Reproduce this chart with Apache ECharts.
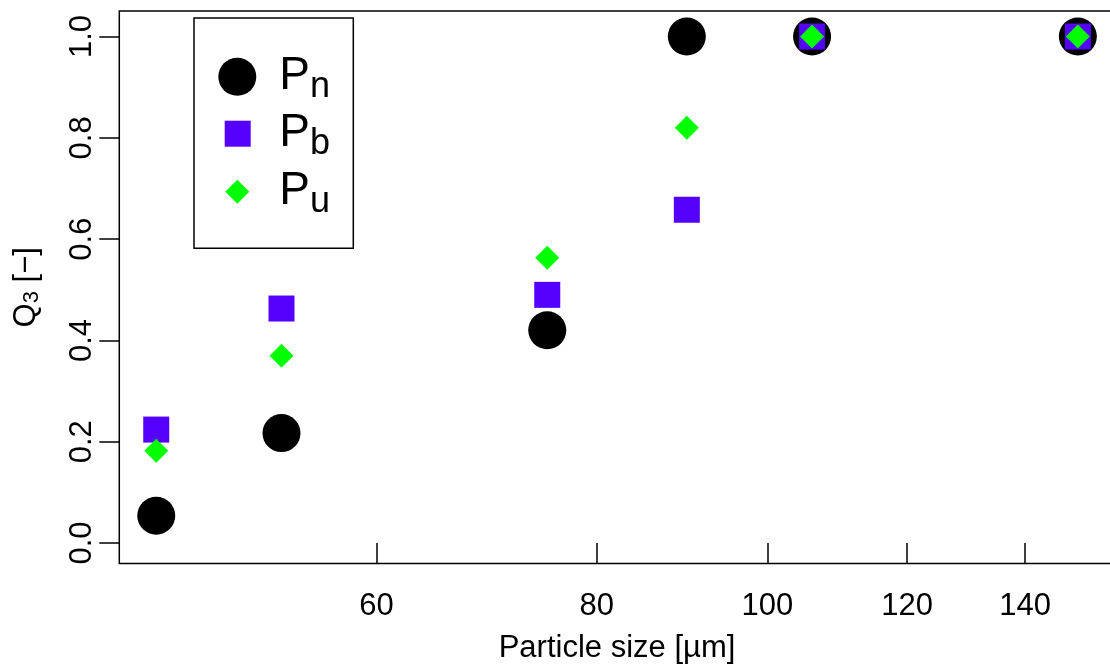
<!DOCTYPE html>
<html>
<head>
<meta charset="utf-8">
<script src="https://cdn.jsdelivr.net/npm/echarts@6/dist/echarts.min.js"></script>
<style>
  html, body { margin: 0; padding: 0; background: #ffffff; }
  #chart { width: 1110px; height: 670px; }
</style>
</head>
<body>
<div id="chart"></div>
<script>
// ---- data ----
const sizes = [45, 53, 75, 90, 106, 150];           // particle size [µm]
const Pn = [0.054, 0.217, 0.420, 1.0, 1.0, 1.0];
const Pb = [0.224, 0.463, 0.490, 0.658, 1.0, 1.0];
const Pu = [0.182, 0.370, 0.563, 0.820, 1.0, 1.0];
const xTicks = [60, 80, 100, 120, 140];
const yTicks = [0, 0.2, 0.4, 0.6, 0.8, 1.0];
const seriesNames = ['Pn', 'Pb', 'Pu'];
const subs = { Pn: 'n', Pb: 'b', Pu: 'u' };

const FONT = '"Liberation Sans", Arial, Helvetica, sans-serif';
const toPts = (vals) => sizes.map((s, i) => [Math.log(s), vals[i]]);

const chart = echarts.init(document.getElementById('chart'), null, { renderer: 'canvas' });

function legendFor(name, icon, w, h, left, top, padLeft) {
  return {
    data: [name],
    icon: icon,
    orient: 'vertical',
    left: left, top: top,
    padding: 0,
    itemWidth: w, itemHeight: h,
    selectedMode: false,
    formatter: (n) => '{p|P}{s|' + subs[n] + '}',
    textStyle: {
      color: '#000', fontFamily: FONT,
      rich: {
        p: { fontSize: 46, lineHeight: 40, fontFamily: FONT, color: '#000', padding: [0, 0, 0, padLeft] },
        s: { fontSize: 36, lineHeight: 40, fontFamily: FONT, color: '#000', padding: [20, 0, 0, 0] }
      }
    }
  };
}

const option = {
  backgroundColor: '#ffffff',
  animation: false,
  grid: {
    left: 119.3, top: 11, width: 995.4, height: 552.5,
    show: true, borderColor: '#000', borderWidth: 1.5,
    backgroundColor: 'transparent',
    outerBoundsMode: 'none'
  },
  xAxis: {
    type: 'value',
    min: Math.log(42.88), max: Math.log(157.4),
    splitLine: { show: false },
    axisLine: { show: false },
    axisTick: { show: true, inside: false, length: 20, customValues: xTicks.map(Math.log),
                lineStyle: { color: '#000', width: 1.5 } },
    axisLabel: { customValues: xTicks.map(Math.log), margin: 27,
                 formatter: (v) => String(Math.round(Math.exp(v))),
                 fontSize: 31, color: '#000', fontFamily: FONT },
    name: 'Particle size [µm]',
    nameLocation: 'middle', nameGap: 69,
    nameTextStyle: { fontSize: 31, color: '#000', fontFamily: FONT }
  },
  yAxis: {
    type: 'value',
    min: -0.0404, max: 1.0504,
    splitLine: { show: false },
    axisLine: { show: false },
    axisTick: { show: true, inside: false, length: 20, customValues: yTicks,
                lineStyle: { color: '#000', width: 1.5 } },
    axisLabel: { customValues: yTicks, margin: 21, rotate: 90,
                 formatter: (v) => v.toFixed(1),
                 fontSize: 31, color: '#000', fontFamily: FONT },
    name: '{a|Q}{b|3}{a| [−]}',
    nameLocation: 'middle', nameGap: 76, nameRotate: 90,
    nameTextStyle: {
      fontFamily: FONT, color: '#000',
      rich: {
        a: { fontSize: 31, fontFamily: FONT, color: '#000', lineHeight: 34 },
        b: { fontSize: 22, fontFamily: FONT, color: '#000', lineHeight: 34, padding: [12, 0, 0, 0] }
      }
    }
  },
  legend: [
    legendFor('Pn', 'circle', 38, 38, 218.3, 48.7, 18),
    legendFor('Pb', 'rect', 26, 26, 224.7, 105.7, 23.6),
    legendFor('Pu', 'diamond', 24, 24, 225.3, 163.7, 25)
  ],
  graphic: [{
    type: 'rect', silent: true, z: 0,
    shape: { x: 194, y: 18, width: 159.3, height: 230.3 },
    style: { fill: '#fff', stroke: '#000', lineWidth: 1.5 }
  }],
  series: [
    { name: 'Pn', type: 'scatter', symbol: 'circle', symbolSize: 38,
      itemStyle: { color: '#000000', opacity: 1 }, data: toPts(Pn) },
    { name: 'Pb', type: 'scatter', symbol: 'rect', symbolSize: 26,
      itemStyle: { color: '#5500ff', opacity: 1 }, data: toPts(Pb) },
    { name: 'Pu', type: 'scatter', symbol: 'diamond', symbolSize: 24,
      itemStyle: { color: '#00ff00', opacity: 1 }, data: toPts(Pu) }
  ]
};
chart.setOption(option);
</script>
</body>
</html>
